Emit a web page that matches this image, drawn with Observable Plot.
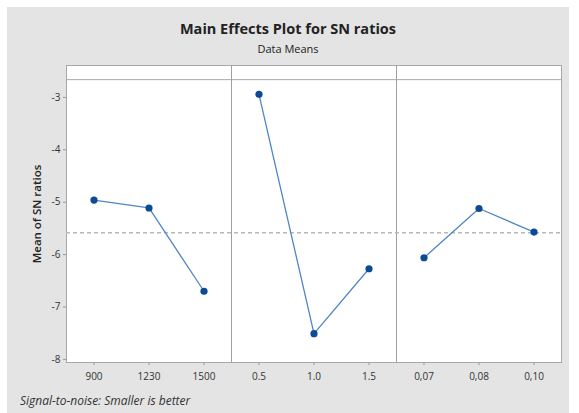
<!DOCTYPE html>
<html><head><meta charset="utf-8">
<script src="https://cdn.jsdelivr.net/npm/d3@7"></script>
<script src="https://cdn.jsdelivr.net/npm/@observablehq/plot@0.6"></script>
<style>
body{margin:0;background:#fff;font-family:"Open Sans","Noto Sans",sans-serif;}
#wrap{position:relative;width:579px;height:413px;overflow:hidden;}
#bg{position:absolute;left:7px;top:7px;width:562px;height:406px;background:#e4e4e4;}
#title{position:absolute;left:7px;width:562px;top:19px;text-align:center;font-size:14.5px;font-weight:700;color:#222;}
#sub{position:absolute;left:7px;width:562px;top:41px;text-align:center;font-size:11px;color:#222;}
#cap{position:absolute;left:20px;top:392px;font-size:12px;font-style:italic;color:#333;}
#chart{position:absolute;left:0;top:0;}
</style></head>
<body>
<div id="wrap">
<div id="bg"></div>
<div id="title">Main Effects Plot for SN ratios</div>
<div id="sub">Data Means</div>
<div id="chart"></div>
<div id="cap">Signal-to-noise: Smaller is better</div>
</div>
<script>
const groupA = ["900", "1230", "1500"];
const groupB = ["0.5", "1.0", "1.5"];
const groupC = ["0,07", "0,08", "0,10"];
const valuesA = [-4.96, -5.11, -6.70];
const valuesB = [-2.94, -7.51, -6.27];
const valuesC = [-6.06, -5.12, -5.57];
const yTicks = [-3, -4, -5, -6, -7, -8];
const yDomain = [-8.06, -2.39];
const stripEdge = -2.66;

const groups = [[groupA, valuesA], [groupB, valuesB], [groupC, valuesC]];
const labels = groups.flatMap(([g]) => g);
const data = [];
groups.forEach(([g, v], gi) => g.forEach((lab, i) => data.push({group: gi, label: lab, idx: data.length, value: v[i]})));
const mean = d3.mean(data, d => d.value);
const dividers = [];
let acc = 0;
groups.slice(0, -1).forEach(([g]) => { acc += g.length; dividers.push(acc - 0.5); });

const chart = Plot.plot({
  width: 579, height: 413,
  marginLeft: 66, marginRight: 18, marginTop: 65, marginBottom: 51,
  style: {background: "transparent", fontFamily: "'Open Sans','Noto Sans',sans-serif", fontSize: "10px", color: "#333"},
  x: {type: "linear", domain: [-0.5, labels.length - 0.5], label: null},
  y: {domain: yDomain},
  marks: [
    Plot.frame({fill: "white", stroke: "#a8a8a8"}),
    Plot.ruleY([stripEdge], {stroke: "#a8a8a8"}),
    Plot.ruleX(dividers, {stroke: "#a0a0a0"}),
    Plot.ruleY([mean], {stroke: "#b8b8b8", strokeWidth: 1.6, strokeDasharray: "4,3"}),
    Plot.line(data, {x: "idx", y: "value", z: "group", stroke: "#4f86c6", strokeWidth: 1.3}),
    Plot.dot(data, {x: "idx", y: "value", r: 3.6, fill: "#0b4a94", stroke: "none"}),
    Plot.axisX(d3.range(labels.length), {tickFormat: i => labels[i], tickSize: 3, tickPadding: 7, stroke: "#999", fill: "#333", fontSize: 10, label: null}),
    Plot.axisY(yTicks, {tickFormat: d => String(d), tickSize: 3, tickPadding: 3, stroke: "#999", fill: "#333", fontSize: 10,
      label: "Mean of SN ratios", labelAnchor: "center", labelArrow: "none", labelOffset: 34})
  ]
});
chart.querySelectorAll("[aria-label='y-axis label'] text, g[aria-label='y-axis label']").forEach(e => { e.style.fontSize = "11.5px"; e.style.fontWeight = "600"; e.style.fill = "#222"; });
document.getElementById("chart").appendChild(chart);
</script>
</body></html>
